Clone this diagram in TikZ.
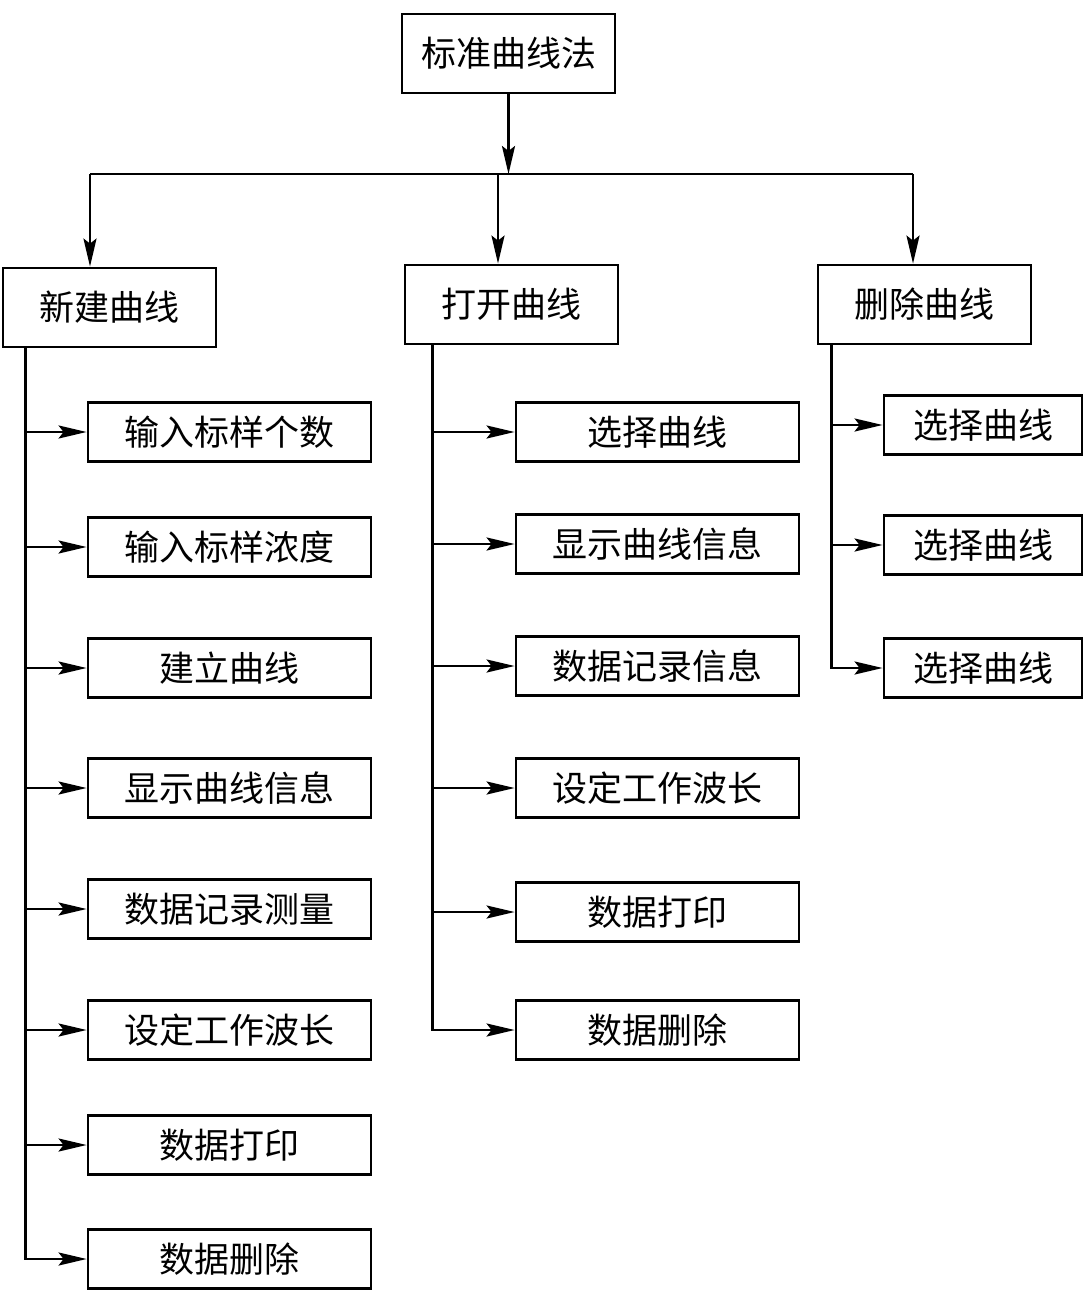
\documentclass[tikz,border=0pt]{standalone}
\usepackage{fontspec}
\setmainfont{Noto Sans CJK SC}
\usetikzlibrary{arrows.meta,positioning}

\begin{document}
\begin{tikzpicture}[x=0.5pt, y=-0.5pt,
        box/.style={draw, line width=1.4pt, inner sep=0pt, font=\fontsize{17.5}{20}\selectfont},
        topbox/.style={box, minimum width=106.5pt, minimum height=39.5pt},
        subbox/.style={box, minimum width=141.5pt, minimum height=29.5pt},
        smallbox/.style={box, minimum width=99pt, minimum height=29.5pt},
        link/.style={line width=1.3pt},
        arr/.style={link, -{Stealth[length=14pt, width=6.5pt, inset=2.5pt]}}]
        \useasboundingbox (0,0) rectangle (1085,1299);

        \node[topbox] (root) at (508.5,53.5) {标准曲线法};

        \node[topbox] (new) at (109.5,307.5) {新建曲线};
        \node[topbox] (open) at (511.5,304.5) {打开曲线};
        \node[topbox] (del) at (924.5,304.5) {删除曲线};

        % left column
        \node[subbox] (new1) at (229.5,432) {输入标样个数};
        \node[subbox] (new2) at (229.5,547) {输入标样浓度};
        \node[subbox] (new3) at (229.5,668) {建立曲线};
        \node[subbox] (new4) at (229.5,788) {显示曲线信息};
        \node[subbox] (new5) at (229.5,909) {数据记录测量};
        \node[subbox] (new6) at (229.5,1030) {设定工作波长};
        \node[subbox] (new7) at (229.5,1145) {数据打印};
        \node[subbox] (new8) at (229.5,1259) {数据删除};

        % middle column
        \node[subbox] (open1) at (657.5,432) {选择曲线};
        \node[subbox] (open2) at (657.5,544) {显示曲线信息};
        \node[subbox] (open3) at (657.5,666) {数据记录信息};
        \node[subbox] (open4) at (657.5,788) {设定工作波长};
        \node[subbox] (open5) at (657.5,912) {数据打印};
        \node[subbox] (open6) at (657.5,1030) {数据删除};

        % right column
        \node[smallbox] (del1) at (983,425) {选择曲线};
        \node[smallbox] (del2) at (983,545) {选择曲线};
        \node[smallbox] (del3) at (983,668) {选择曲线};

        % bus below the root
        \coordinate (bus) at (root.south |- 0,174);
        \coordinate (busL) at (90,174);
        \coordinate (busM) at (498,174);
        \coordinate (busR) at (913,174);

        \draw [arr] (root) -- (bus);
        \draw [link] (busL) -- (busR);
        \draw [arr] (busL) -- (busL |- new.north);
        \draw [arr] (busM) -- (busM |- open.north);
        \draw [arr] (busR) -- (busR |- del.north);

        % trunks
        \coordinate (trunkL) at ([xshift=12pt]new.south west);
        \coordinate (trunkM) at ([xshift=14.5pt]open.south west);
        \coordinate (trunkR) at ([xshift=7.5pt]del.south west);

        \draw [arr] (trunkL) |- (new8.west);
        \draw [arr] (trunkL |- new1.west) -- (new1.west);
        \draw [arr] (trunkL |- new2.west) -- (new2.west);
        \draw [arr] (trunkL |- new3.west) -- (new3.west);
        \draw [arr] (trunkL |- new4.west) -- (new4.west);
        \draw [arr] (trunkL |- new5.west) -- (new5.west);
        \draw [arr] (trunkL |- new6.west) -- (new6.west);
        \draw [arr] (trunkL |- new7.west) -- (new7.west);

        \draw [arr] (trunkM) |- (open6.west);
        \draw [arr] (trunkM |- open1.west) -- (open1.west);
        \draw [arr] (trunkM |- open2.west) -- (open2.west);
        \draw [arr] (trunkM |- open3.west) -- (open3.west);
        \draw [arr] (trunkM |- open4.west) -- (open4.west);
        \draw [arr] (trunkM |- open5.west) -- (open5.west);

        \draw [arr] (trunkR) |- (del3.west);
        \draw [arr] (trunkR |- del1.west) -- (del1.west);
        \draw [arr] (trunkR |- del2.west) -- (del2.west);

    \end{tikzpicture}
\end{document}
